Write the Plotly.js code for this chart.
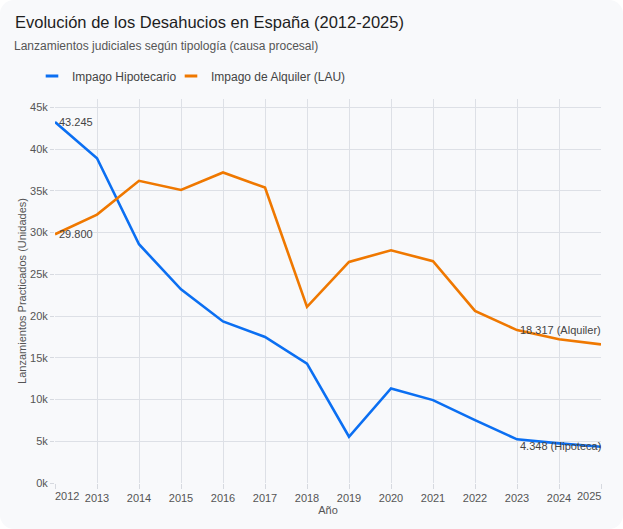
<!DOCTYPE html>
<html>
<head>
<meta charset="utf-8">
<script src="https://cdn.plot.ly/plotly-3.0.1.min.js"></script>
<style>
html,body{margin:0;padding:0;background:#ffffff;}
#card{width:623px;height:529px;background:#f8f9fb;border-radius:14px;overflow:hidden;}
#chart{width:623px;height:529px;}
</style>
</head>
<body>
<div id="card"><div id="chart"></div></div>
<script>
// ---- data ----
const years = [2012, 2013, 2014, 2015, 2016, 2017, 2018, 2019, 2020, 2021, 2022, 2023, 2024, 2025];
const hipotecario = [43245, 38900, 28600, 23200, 19350, 17500, 14300, 5540, 11330, 9930, 7540, 5230, 4750, 4348];
const alquiler = [29800, 32150, 36200, 35100, 37200, 35400, 21100, 26480, 27880, 26570, 20620, 18317, 17230, 16600];
const seriesNames = ['Impago Hipotecario', 'Impago de Alquiler (LAU)'];
const yTickVals = [0, 5000, 10000, 15000, 20000, 25000, 30000, 35000, 40000, 45000];
const yTickText = ['0k', '5k', '10k', '15k', '20k', '25k', '30k', '35k', '40k', '45k'];
const xTickText = years.map((y, i) => (i === 0 || i === years.length - 1) ? '' : String(y));
const titleText = 'Evolución de los Desahucios en España (2012-2025)';
const subtitleText = 'Lanzamientos judiciales según tipología (causa procesal)';

const BLUE = '#0b6ff2';
const ORANGE = '#ef7800';
const FONT = 'Liberation Sans, Arial, sans-serif';

const traces = [
  {x: years, y: hipotecario, type: 'scatter', mode: 'lines', name: seriesNames[0],
   line: {color: BLUE, width: 2.6}, showlegend: false, legendgroup: 'h'},
  {x: years, y: alquiler, type: 'scatter', mode: 'lines', name: seriesNames[1],
   line: {color: ORANGE, width: 2.6}, showlegend: false, legendgroup: 'a'},
  {x: [null], y: [null], type: 'scatter', mode: 'markers', name: seriesNames[0], legendgroup: 'h', legend: 'legend',
   marker: {symbol: 'line-ew', size: 9, color: BLUE, line: {color: BLUE, width: 3}}},
  {x: [null], y: [null], type: 'scatter', mode: 'markers', name: seriesNames[1], legendgroup: 'a', legend: 'legend2',
   marker: {symbol: 'line-ew', size: 9, color: ORANGE, line: {color: ORANGE, width: 3}}}
];

const last = years.length - 1;
const annFont = {family: FONT, size: 11, color: '#444'};
const annotations = [
  {x: years[0], y: hipotecario[0], text: hipotecario[0].toLocaleString('de-DE'), xanchor: 'left', yanchor: 'middle', showarrow: false, font: annFont, xshift: 2},
  {x: years[0], y: alquiler[0], text: alquiler[0].toLocaleString('de-DE'), xanchor: 'left', yanchor: 'middle', showarrow: false, font: annFont, xshift: 2},
  {x: years[last - 2], y: alquiler[last - 2], text: alquiler[last - 2].toLocaleString('de-DE') + ' (Alquiler)', xanchor: 'left', yanchor: 'middle', showarrow: false, font: annFont, xshift: 1},
  {x: years[last - 2], y: hipotecario[last], text: hipotecario[last].toLocaleString('de-DE') + ' (Hipoteca)', xanchor: 'left', yanchor: 'middle', showarrow: false, font: annFont, xshift: 1, yshift: 1},
  {x: years[0], xref: 'x', y: 0, yref: 'paper', text: String(years[0]), xanchor: 'left', yanchor: 'top', yshift: -5, xshift: -2, showarrow: false, font: {family: FONT, size: 11, color: '#555'}},
  {x: years[last], xref: 'x', y: 0, yref: 'paper', text: String(years[last]), xanchor: 'right', yanchor: 'top', yshift: -5, xshift: 2, showarrow: false, font: {family: FONT, size: 11, color: '#555'}},
  {x: -40 / 546, xref: 'paper', y: 1 + (99 - 46) / 384, yref: 'paper', text: subtitleText, xanchor: 'left', yanchor: 'middle', xshift: -3, showarrow: false, font: {family: FONT, size: 12, color: '#555'}}
];

const legendCommon = {orientation: 'h', xanchor: 'left', y: 1.022, yanchor: 'bottom',
  font: {family: FONT, size: 12, color: '#444'}, bgcolor: 'rgba(0,0,0,0)', itemwidth: 30};

const layout = {
  width: 623, height: 529,
  paper_bgcolor: 'rgba(0,0,0,0)', plot_bgcolor: 'rgba(0,0,0,0)',
  font: {family: FONT, size: 11, color: '#555'},
  margin: {l: 55, r: 22, t: 99, b: 46},
  title: {
    text: titleText,
    font: {family: FONT, size: 16.5, color: '#1e1e1e'},
    xref: 'container', x: 15 / 623, xanchor: 'left',
    yref: 'container', y: 1 - 16 / 529, yanchor: 'top'
  },
  showlegend: true,
  legend: Object.assign({}, legendCommon, {x: -23 / 546}),
  legend2: Object.assign({}, legendCommon, {x: 116 / 546}),
  xaxis: {
    range: [years[0], years[last]], tickvals: years, ticktext: xTickText,
    showgrid: true, gridcolor: '#dde0e6', gridwidth: 1, zeroline: false,
    ticks: 'outside', ticklen: 5, tickcolor: '#d6d9df',
    tickfont: {family: FONT, size: 11, color: '#555'},
    title: {text: 'Año', font: {family: FONT, size: 11, color: '#555'}, standoff: 2}
  },
  yaxis: {
    range: [0, 46000], tickvals: yTickVals, ticktext: yTickText,
    showgrid: true, gridcolor: '#dde0e6', gridwidth: 1, zeroline: false,
    ticks: 'outside', ticklen: 4, tickcolor: '#d6d9df',
    tickfont: {family: FONT, size: 11, color: '#555'},
    title: {text: 'Lanzamientos Practicados (Unidades)', font: {family: FONT, size: 11, color: '#555'}, standoff: 1}
  },
  annotations: annotations
};

Plotly.newPlot('chart', traces, layout, {displayModeBar: false, responsive: false});
</script>
</body>
</html>
